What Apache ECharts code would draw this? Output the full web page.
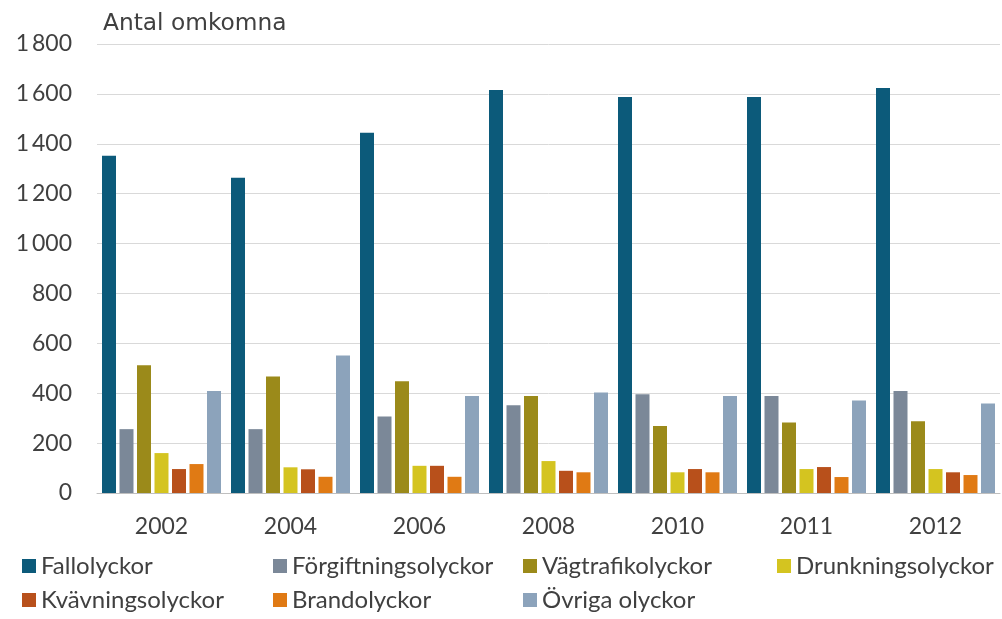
<!DOCTYPE html>
<html>
<head>
<meta charset="utf-8">
<script src="https://cdn.jsdelivr.net/npm/echarts@6/dist/echarts.min.js"></script>
<style>
  html, body { margin: 0; padding: 0; background: #fff; }
  #main { width: 1002px; height: 619px; }
</style>
</head>
<body>
<div id="main"></div>
<script type="text/javascript">
    // data
    var years = ['2002', '2004', '2006', '2008', '2010', '2011', '2012'];
    var fallolyckor = [1352, 1264, 1444, 1616, 1588, 1588, 1624];
    var forgiftning = [256, 256, 307, 352, 396, 389, 409];
    var vagtrafik = [512, 467, 448, 389, 269, 283, 288];
    var drunkning = [160, 103, 109, 128, 83, 96, 96];
    var kvavning = [96, 95, 109, 89, 96, 104, 83];
    var brand = [116, 65, 65, 83, 83, 64, 72];
    var ovriga = [409, 551, 389, 403, 389, 371, 359];
    var yTicks = [0, 200, 400, 600, 800, 1000, 1200, 1400, 1600, 1800];

    var names = ['Fallolyckor', 'Förgiftningsolyckor', 'Vägtrafikolyckor', 'Drunkningsolyckor',
        'Kvävningsolyckor', 'Brandolyckor', 'Övriga olyckor'];
    var values = [fallolyckor, forgiftning, vagtrafik, drunkning, kvavning, brand, ovriga];
    var colors = ['#0c5a7a', '#7b8898', '#9b8a1a', '#d4c420', '#b8501b', '#e07a14', '#8ca3bb'];

    var font = 'Lato, "Noto Sans", sans-serif';
    var textColor = '#404040';

    // legend places, like the Excel legend
    var legendPos = [[22, 554], [273, 554], [523, 554], [777, 554], [22, 588], [273, 588], [523, 588]];

    var myChart = echarts.init(document.getElementById('main'));

    var series = [];
    var legends = [];
    for (var i = 0; i < names.length; i++) {
        series.push({
            name: names[i],
            type: 'bar',
            data: values[i],
            barWidth: 14,
            barGap: '25%',
            itemStyle: { color: colors[i] }
        });
        legends.push({
            data: [names[i]],
            left: legendPos[i][0],
            top: legendPos[i][1],
            itemWidth: 14,
            itemHeight: 14,
            itemGap: 0,
            padding: 0,
            icon: 'rect',
            textStyle: { fontFamily: font, fontSize: 24, color: textColor },
            selectedMode: false
        });
    }

    var option = {
        animation: false,
        textStyle: { fontFamily: font },
        graphic: [{
            type: 'text',
            left: 103,
            top: 12,
            style: { text: 'Antal omkomna', font: '23.3px "DejaVu Sans"', fill: textColor }
        }],
        legend: legends,
        grid: { left: 97, right: 2, top: 44, bottom: 126 },
        xAxis: {
            type: 'category',
            data: years,
            axisTick: { show: false },
            axisLine: { lineStyle: { color: '#bfbfbf', width: 1 } },
            axisLabel: { fontFamily: font, fontSize: 23, color: textColor, margin: 22 }
        },
        yAxis: {
            type: 'value',
            min: yTicks[0],
            max: yTicks[yTicks.length - 1],
            interval: 200,
            axisLine: { show: false },
            axisTick: { show: false },
            splitLine: { lineStyle: { color: '#d9d9d9', width: 1 } },
            axisLabel: {
                fontFamily: font, fontSize: 23, color: textColor, margin: 25,
                formatter: function (v) {
                    return v >= 1000 ? Math.floor(v / 1000) + '\u2009' + String(v % 1000).padStart(3, '0') : String(v);
                }
            }
        },
        series: series
    };

    myChart.setOption(option);
</script>
</body>
</html>
